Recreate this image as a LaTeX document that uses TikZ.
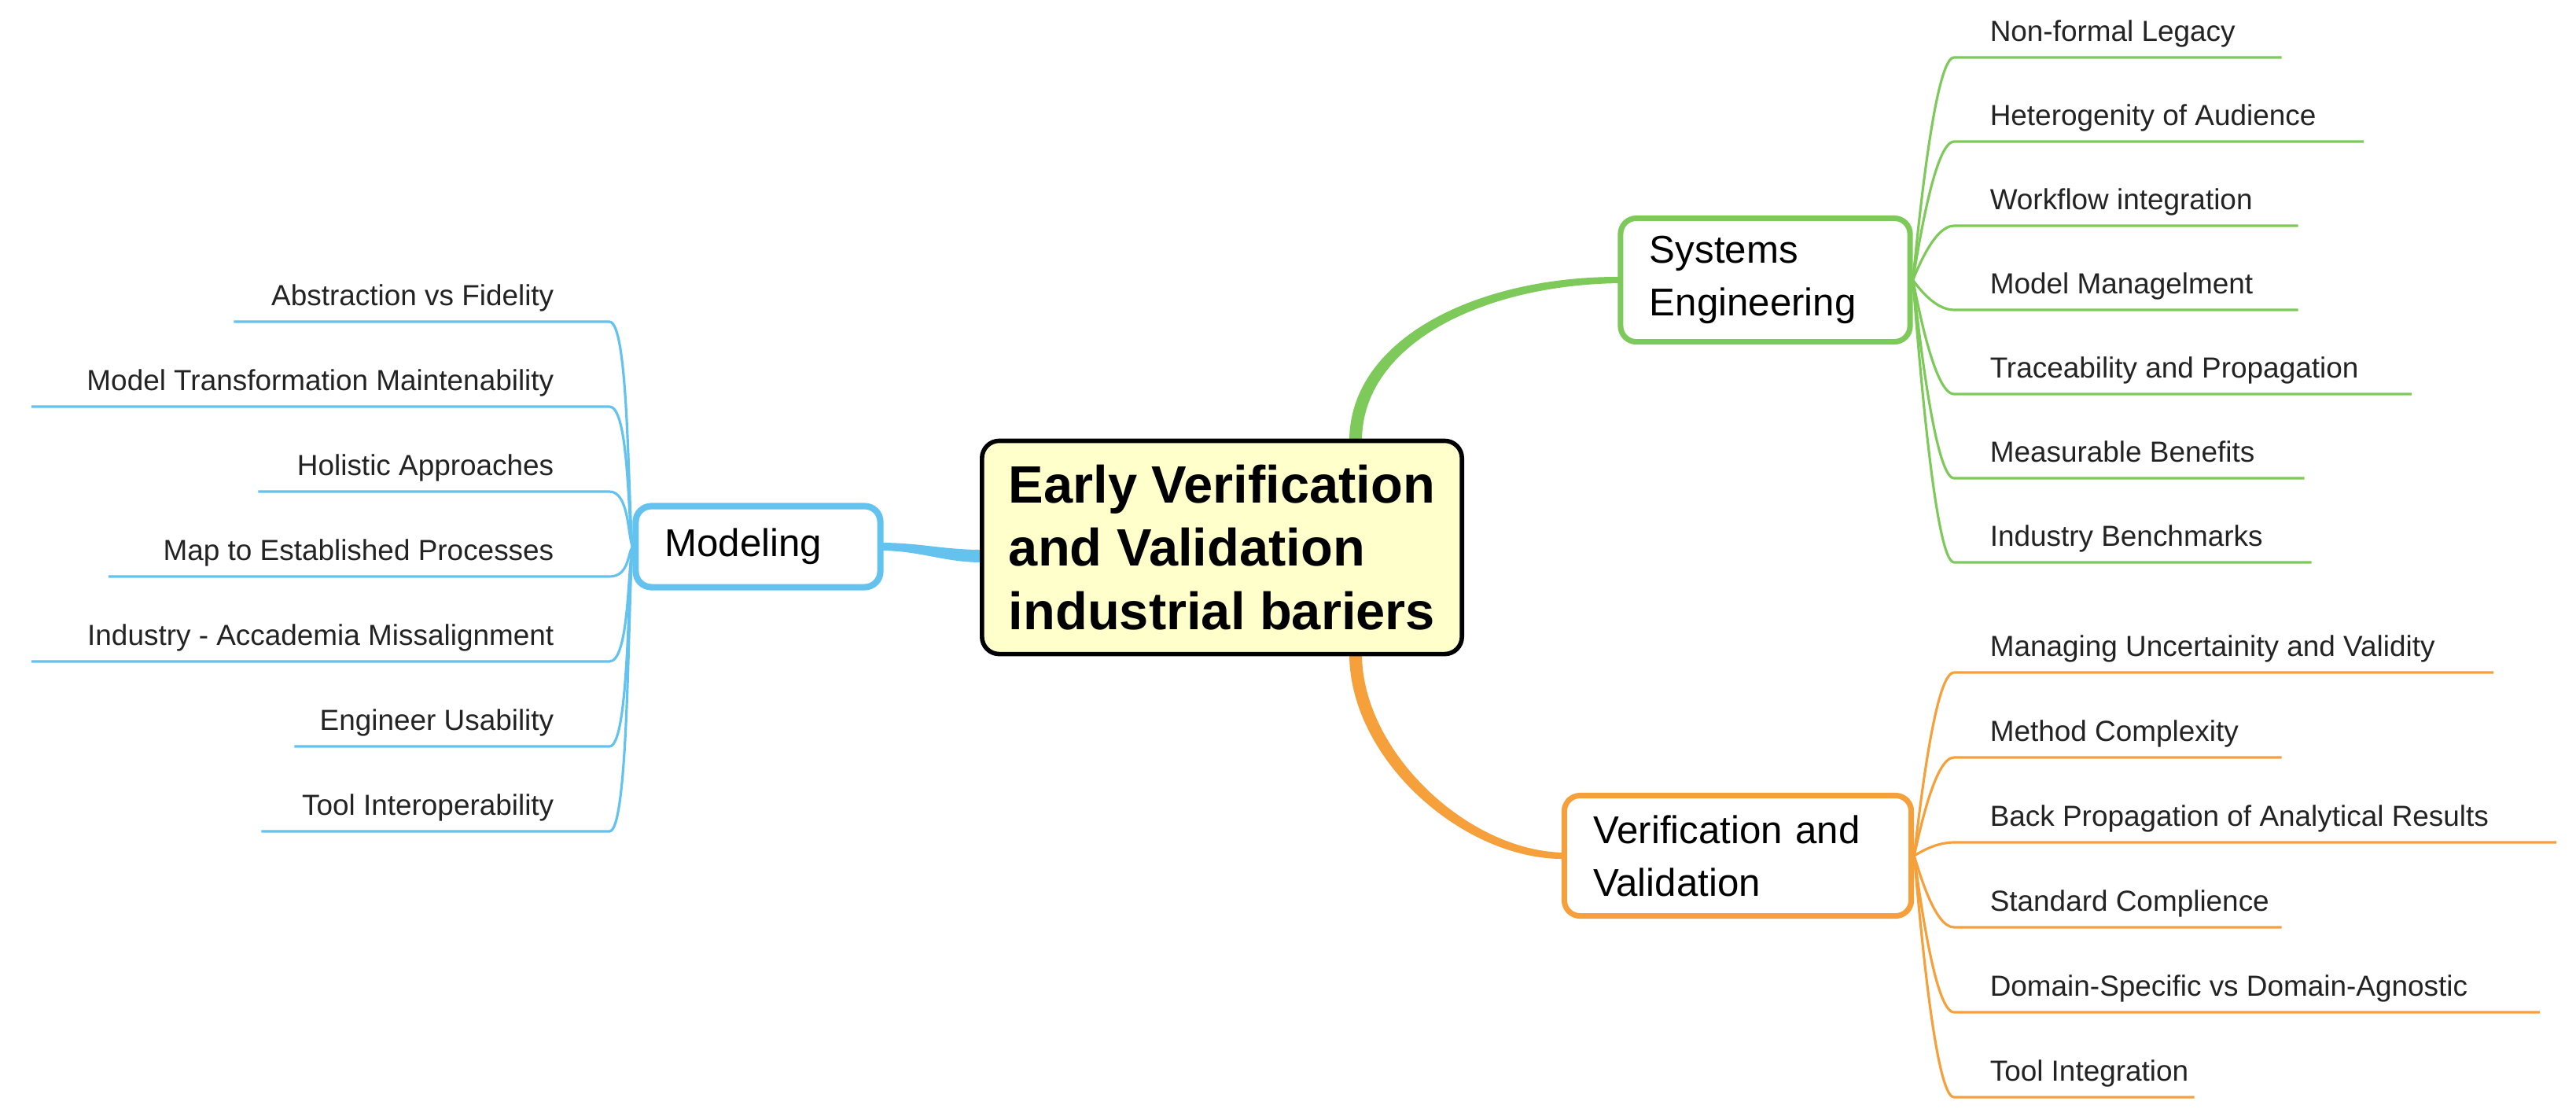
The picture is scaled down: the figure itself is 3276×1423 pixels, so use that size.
\documentclass[tikz,border=0pt]{standalone}
\usepackage{fontspec}
\setmainfont{Liberation Sans}
\usetikzlibrary{calc,backgrounds}
\definecolor{cblue}{RGB}{99,194,238}
\definecolor{cgreen}{RGB}{125,201,90}
\definecolor{corange}{RGB}{246,160,60}
\definecolor{cyellow}{RGB}{255,255,204}
\definecolor{ctext}{RGB}{35,35,35}
\begin{document}
\begin{tikzpicture}[x=0.01cm,y=-0.01cm,
  central/.style={draw=black, line width=1.6pt, fill=cyellow, rounded corners=0.22cm,
    minimum width=6.1cm, minimum height=2.71cm, align=left,
    font=\fontsize{19}{22.8}\selectfont\bfseries, inner sep=0},
  topic/.style={fill=white, rounded corners=0.2cm, line width=2pt,
    font=\fontsize{14}{19}\selectfont, align=left, inner ysep=0, inner xsep=0.37cm},
  leaf/.style={inner sep=0, text depth=0.2cm, font=\fontsize{10.5}{12}\selectfont, text=ctext},
  leafL/.style={leaf, anchor=south east},
  leafR/.style={leaf, anchor=south west},
  bl/.style={draw=cblue, line width=0.9pt},
  gl/.style={draw=cgreen, line width=0.9pt},
  ol/.style={draw=corange, line width=0.9pt},
]
\useasboundingbox (0,0) rectangle (3276,1423);

% main nodes
\node[central] (c) at (1554,696) {Early Verification\\and Validation\\industrial bariers};
\node[topic, draw=cblue, line width=2.3pt, text width=2.37cm, minimum height=1.03cm] (mod) at (964,695) {Modeling};
\node[topic, draw=cgreen, text width=2.94cm, minimum height=1.57cm] (se) at (2245,356) {Systems\\Engineering};
\node[topic, draw=corange, text width=3.67cm, minimum height=1.53cm] (vv) at (2210,1088) {Verification and\\Validation};

% main tapered connectors
\begin{scope}[on background layer]
\fill[cblue] ($(mod.east)+(-4,-5)$) .. controls (1170,690) and (1200,699) .. ($(c.west)+(3,3)$)
   -- ($(c.west)+(3,19)$) .. controls (1200,715) and (1170,700) .. ($(mod.east)+(-4,5)$) -- cycle;
\fill[cgreen] ($(c.north)+(162,3)$) .. controls (1716,430) and (1880,351) .. ($(se.west)+(3,-4)$)
   -- ($(se.west)+(3,4)$) .. controls (1886,362) and (1732,437) .. ($(c.north)+(178,3)$) -- cycle;
\fill[corange] ($(c.south)+(162,-3)$) .. controls (1716,965) and (1860,1093) .. ($(vv.west)+(3,4)$)
   -- ($(vv.west)+(3,-4)$) .. controls (1866,1082) and (1732,955) .. ($(c.south)+(178,-3)$) -- cycle;
\end{scope}

% Modeling leaves
\node[leafL] (m1) at (775,409)  {\makebox[4.76cm][r]{Abstraction vs Fidelity\hspace*{0.7cm}}};
\node[leafL] (m2) at (775,517)  {\makebox[7.33cm][r]{Model Transformation Maintenability\hspace*{0.7cm}}};
\node[leafL] (m3) at (775,625)  {\makebox[4.45cm][r]{Holistic Approaches\hspace*{0.7cm}}};
\node[leafL] (m4) at (775,733)  {\makebox[6.35cm][r]{Map to Established Processes\hspace*{0.7cm}}};
\node[leafL] (m5) at (775,841)  {\makebox[7.33cm][r]{Industry - Accademia Missalignment\hspace*{0.7cm}}};
\node[leafL] (m6) at (775,949)  {\makebox[3.99cm][r]{Engineer Usability\hspace*{0.7cm}}};
\node[leafL] (m7) at (775,1057) {\makebox[4.41cm][r]{Tool Interoperability\hspace*{0.7cm}}};
\draw[bl] (m1.south west) -- (m1.south east) .. controls +(25,0) and +(-6,-57) .. (mod.west);
\draw[bl] (m2.south west) -- (m2.south east) .. controls +(25,0) and +(-6,-36) .. (mod.west);
\draw[bl] (m3.south west) -- (m3.south east) .. controls +(25,0) and +(-6,-14) .. (mod.west);
\draw[bl] (m4.south west) -- (m4.south east) .. controls +(25,0) and +(-6,8) .. (mod.west);
\draw[bl] (m5.south west) -- (m5.south east) .. controls +(25,0) and +(-6,29) .. (mod.west);
\draw[bl] (m6.south west) -- (m6.south east) .. controls +(25,0) and +(-6,51) .. (mod.west);
\draw[bl] (m7.south west) -- (m7.south east) .. controls +(25,0) and +(-6,72) .. (mod.west);

% Systems Engineering leaves
\node[leafR] (s1) at (2485,73)  {\makebox[4.15cm][l]{\hspace*{0.45cm}Non-formal Legacy}};
\node[leafR] (s2) at (2485,180) {\makebox[5.19cm][l]{\hspace*{0.45cm}Heterogenity of Audience}};
\node[leafR] (s3) at (2485,287) {\makebox[4.36cm][l]{\hspace*{0.45cm}Workflow integration}};
\node[leafR] (s4) at (2485,394) {\makebox[4.36cm][l]{\hspace*{0.45cm}Model Managelment}};
\node[leafR] (s5) at (2485,501) {\makebox[5.80cm][l]{\hspace*{0.45cm}Traceability and Propagation}};
\node[leafR] (s6) at (2485,608) {\makebox[4.44cm][l]{\hspace*{0.45cm}Measurable Benefits}};
\node[leafR] (s7) at (2485,715) {\makebox[4.53cm][l]{\hspace*{0.45cm}Industry Benchmarks}};
\draw[gl] (se.east) .. controls +(6,-57) and +(-25,0) .. (s1.south west) -- (s1.south east);
\draw[gl] (se.east) .. controls +(6,-35) and +(-25,0) .. (s2.south west) -- (s2.south east);
\draw[gl] (se.east) .. controls +(6,-14) and +(-25,0) .. (s3.south west) -- (s3.south east);
\draw[gl] (se.east) .. controls +(6,8) and +(-25,0) .. (s4.south west) -- (s4.south east);
\draw[gl] (se.east) .. controls +(6,29) and +(-25,0) .. (s5.south west) -- (s5.south east);
\draw[gl] (se.east) .. controls +(6,50) and +(-25,0) .. (s6.south west) -- (s6.south east);
\draw[gl] (se.east) .. controls +(6,72) and +(-25,0) .. (s7.south west) -- (s7.south east);

% Verification and Validation leaves
\node[leafR] (v1) at (2485,855)  {\makebox[6.84cm][l]{\hspace*{0.45cm}Managing Uncertainity and Validity}};
\node[leafR] (v2) at (2485,963)  {\makebox[4.15cm][l]{\hspace*{0.45cm}Method Complexity}};
\node[leafR] (v3) at (2485,1071) {\makebox[7.64cm][l]{\hspace*{0.45cm}Back Propagation of Analytical Results}};
\node[leafR] (v4) at (2485,1179) {\makebox[4.15cm][l]{\hspace*{0.45cm}Standard Complience}};
\node[leafR] (v5) at (2485,1287) {\makebox[7.43cm][l]{\hspace*{0.45cm}Domain-Specific vs Domain-Agnostic}};
\node[leafR] (v6) at (2485,1395) {\makebox[3.04cm][l]{\hspace*{0.45cm}Tool Integration}};
\draw[ol] (vv.east) .. controls +(6,-47) and +(-25,0) .. (v1.south west) -- (v1.south east);
\draw[ol] (vv.east) .. controls +(6,-25) and +(-25,0) .. (v2.south west) -- (v2.south east);
\draw[ol] (vv.east) .. controls +(6,-3) and +(-25,0) .. (v3.south west) -- (v3.south east);
\draw[ol] (vv.east) .. controls +(6,18) and +(-25,0) .. (v4.south west) -- (v4.south east);
\draw[ol] (vv.east) .. controls +(6,40) and +(-25,0) .. (v5.south west) -- (v5.south east);
\draw[ol] (vv.east) .. controls +(6,61) and +(-25,0) .. (v6.south west) -- (v6.south east);
\end{tikzpicture}
\end{document}
